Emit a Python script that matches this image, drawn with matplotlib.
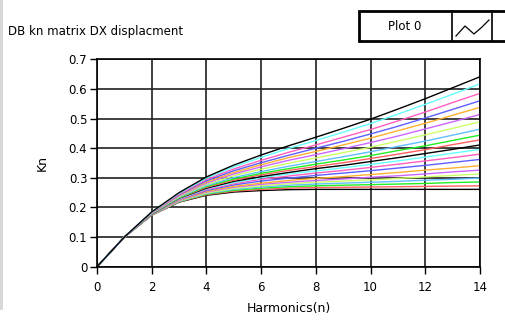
import matplotlib
matplotlib.use("Agg")
import matplotlib.pyplot as plt
from matplotlib.patches import Rectangle
from matplotlib.lines import Line2D

harmonics = list(range(15))

kn_curves = [
    [0, .100, .174, .218, .241, .252, .257, .260, .261, .261, .261, .261, .261, .261, .261],
    [0, .100, .174, .219, .243, .255, .261, .265, .267, .268, .269, .270, .271, .272, .273],
    [0, .100, .175, .220, .245, .258, .265, .270, .273, .275, .277, .279, .281, .284, .286],
    [0, .100, .175, .221, .247, .261, .269, .275, .279, .282, .285, .288, .292, .295, .299],
    [0, .100, .176, .222, .249, .264, .273, .280, .285, .289, .293, .298, .303, .308, .313],
    [0, .100, .176, .223, .252, .268, .278, .285, .291, .296, .302, .307, .313, .320, .326],
    [0, .100, .176, .225, .254, .271, .282, .291, .298, .304, .311, .318, .326, .333, .341],
    [0, .100, .177, .227, .257, .276, .289, .299, .308, .316, .324, .333, .342, .352, .362],
    [0, .100, .177, .228, .260, .280, .295, .306, .316, .325, .335, .346, .357, .368, .380],
    [0, .100, .178, .229, .263, .284, .300, .313, .323, .334, .345, .357, .370, .383, .396],
    [0, .100, .178, .231, .265, .288, .304, .318, .331, .342, .355, .368, .382, .396, .411],
    [0, .100, .179, .232, .268, .292, .310, .325, .338, .351, .365, .380, .395, .412, .428],
    [0, .100, .179, .233, .271, .296, .315, .331, .346, .360, .375, .392, .408, .426, .444],
    [0, .100, .180, .235, .274, .301, .321, .339, .355, .371, .388, .406, .424, .444, .464],
    [0, .100, .181, .237, .278, .307, .329, .349, .367, .385, .403, .424, .445, .467, .489],
    [0, .100, .181, .239, .282, .313, .337, .359, .378, .398, .419, .441, .465, .489, .514],
    [0, .100, .182, .241, .286, .318, .344, .368, .389, .411, .434, .459, .484, .511, .538],
    [0, .100, .183, .243, .290, .324, .351, .376, .400, .423, .448, .474, .502, .531, .560],
    [0, .100, .183, .245, .294, .330, .359, .386, .411, .437, .463, .492, .522, .554, .585],
    [0, .100, .184, .248, .299, .337, .369, .399, .426, .454, .483, .515, .548, .582, .617],
    [0, .100, .185, .250, .303, .343, .377, .408, .437, .467, .498, .532, .567, .604, .641],
]

palette = ["#000000", "#ff5f5f", "#22ee22", "#5fbfff", "#ccff66",
           "#cc66ff", "#ffb030", "#5f5fff", "#ff5fbf", "#66ffff"]

x_ticks = [0, 2, 4, 6, 8, 10, 12, 14]
y_ticks = [0, 0.1, 0.2, 0.3, 0.4, 0.5, 0.6, 0.7]
y_tick_labels = ["0", "0.1", "0.2", "0.3", "0.4", "0.5", "0.6", "0.7"]

title_text = "DB kn matrix DX displacment"
legend_text = "Plot 0"

plt.rcParams['font.family'] = ['DejaVu Sans']

W, H = 506, 326
fig = plt.figure(figsize=(W / 100, H / 100), dpi=100)
fig.patch.set_facecolor("white")

ax = fig.add_axes([97 / W, 1 - 266.7 / H, (480 - 97) / W, (266.7 - 59.3) / H])
ax.set_xlim(0, 14)
ax.set_ylim(0, 0.7)

for xv in x_ticks:
    ax.axvline(xv, color="#202020", lw=1.2, zorder=1)
for yv in y_ticks:
    ax.axhline(yv, color="#202020", lw=1.2, zorder=1)

for i, curve in enumerate(kn_curves):
    ax.plot(harmonics, curve, color=palette[i % len(palette)], lw=1.0, zorder=2)

ax.set_xticks(x_ticks)
ax.set_xticklabels([str(v) for v in x_ticks])
ax.set_yticks(y_ticks)
ax.set_yticklabels(y_tick_labels)
ax.tick_params(axis="both", direction="out", length=5, width=1, color="black",
               labelsize=8.5)
ax.tick_params(axis="x", pad=5)
ax.tick_params(axis="y", pad=2)
for s in ax.spines.values():
    s.set_color("black")
    s.set_linewidth(1.2)

ax.set_xlabel("Harmonics(n)", fontsize=9, labelpad=6)
ax.set_ylabel("Kn", fontsize=9, labelpad=14)

fig.text(8 / W, 1 - 32 / H, title_text, fontsize=8.5, ha="left", va="center")

# legend box
fig.patches.append(Rectangle((359 / W, 1 - 41 / H), (506 - 359) / W, 30 / H,
                             transform=fig.transFigure, facecolor="white",
                             edgecolor="black", lw=2, zorder=5))
fig.lines.append(Line2D([452 / W, 452 / W], [1 - 41 / H, 1 - 11 / H],
                        transform=fig.transFigure, color="black", lw=1.2, zorder=6))
fig.lines.append(Line2D([492 / W, 492 / W], [1 - 41 / H, 1 - 11 / H],
                        transform=fig.transFigure, color="black", lw=1.2, zorder=6))
fig.text(405 / W, 1 - 26 / H, legend_text, fontsize=8.5, ha="center", va="center", zorder=7)
zx = [456, 465, 474, 482, 489]
zy = [36, 26, 34, 27, 20]
fig.lines.append(Line2D([v / W for v in zx], [1 - v / H for v in zy],
                        transform=fig.transFigure, color="black", lw=0.9, zorder=7))

# window edge strip
fig.patches.append(Rectangle((0, 1 - 310 / H), 3 / W, 310 / H,
                             transform=fig.transFigure, facecolor="#d8d8d8",
                             edgecolor="none", zorder=4))

fig.savefig("out.png", dpi=100)
